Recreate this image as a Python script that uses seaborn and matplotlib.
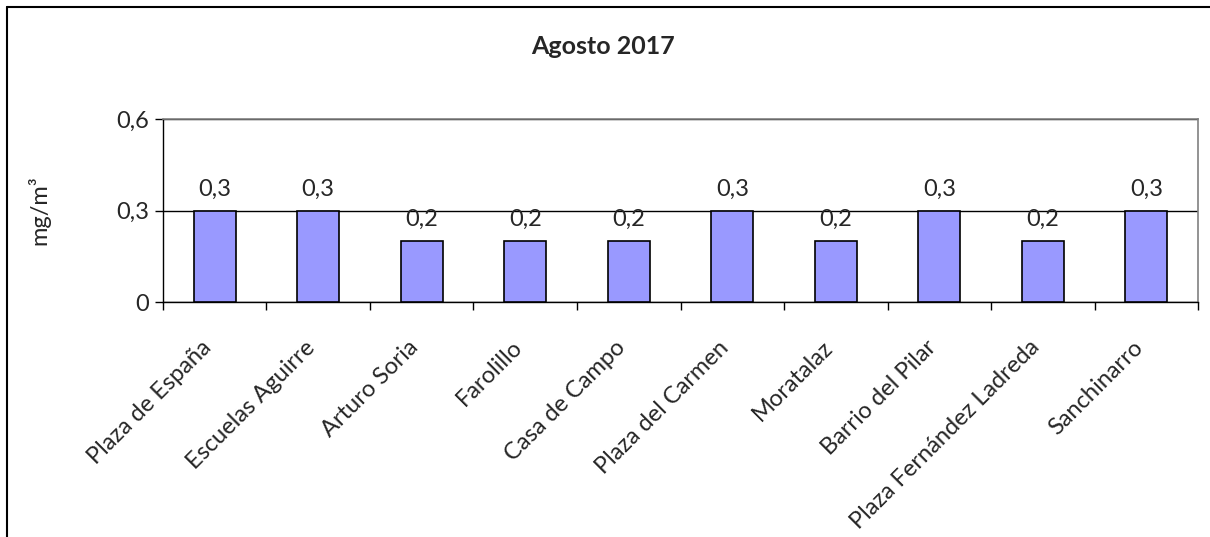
import matplotlib
matplotlib.use("Agg")
import matplotlib.pyplot as plt
import matplotlib.transforms as mtransforms
from matplotlib.lines import Line2D
import seaborn as sns
import pandas as pd

stations = ["Plaza de España", "Escuelas Aguirre", "Arturo Soria", "Farolillo",
            "Casa de Campo", "Plaza del Carmen", "Moratalaz", "Barrio del Pilar",
            "Plaza Fernández Ladreda", "Sanchinarro"]
values = [0.3, 0.3, 0.2, 0.2, 0.2, 0.3, 0.2, 0.3, 0.2, 0.3]
yticks = [0, 0.3, 0.6]
ytick_labels = ["0", "0,3", "0,6"]
title = "Agosto 2017"
ylabel = "mg/m³"

sns.set_theme(style="white")
plt.rcParams["font.family"] = ["Lato", "DejaVu Sans"]

FS = 17

df = pd.DataFrame({"station": stations, "value": values})

fig = plt.figure(figsize=(12.1, 5.37), dpi=100)
ax = fig.add_axes([0.1347, 0.4376, 0.9901 - 0.1347, 0.7784 - 0.4376])

sns.barplot(data=df, x="station", y="value", color="#9999FF", width=0.41,
            edgecolor="black", linewidth=1.2, saturation=1, ax=ax, zorder=3)

ax.set_ylim(0, 0.6)
ax.set_xlim(-0.5, len(stations) - 0.5)
ax.set_yticks(yticks)
ax.set_yticklabels(ytick_labels, fontsize=FS)
ax.yaxis.grid(True, color="black", linewidth=1)
ax.set_axisbelow(True)

ax.set_xticks(range(len(stations)))
ax.set_xticklabels(stations, rotation=45, ha="right", rotation_mode="anchor", fontsize=FS)
ax.tick_params(axis="x", which="major", length=0, pad=25)
offset = mtransforms.ScaledTranslation(-14 / 100, 0, fig.dpi_scale_trans)
for lab in ax.get_xticklabels():
    lab.set_transform(lab.get_transform() + offset)
ax.set_xticks([i - 0.5 for i in range(len(stations) + 1)], minor=True)
ax.tick_params(axis="x", which="minor", length=6, width=1, color="black", direction="out", bottom=True)
ax.tick_params(axis="y", which="major", length=6, width=1, color="black", direction="out", left=True, pad=4)

for s in ["left", "bottom"]:
    ax.spines[s].set_color("black")
    ax.spines[s].set_linewidth(1)
for s in ["top", "right"]:
    ax.spines[s].set_visible(True)
    ax.spines[s].set_color("#808080")
    ax.spines[s].set_linewidth(1.2)

ax.set_xlabel("")
ax.set_ylabel(ylabel, fontsize=FS)
ax.yaxis.set_label_coords((50 - 163) / 1035, 0.5)

for cont in ax.containers:
    ax.bar_label(cont, labels=[f"{v:.1f}".replace(".", ",") for v in cont.datavalues],
                 padding=8, fontsize=FS)

fig.text(0.4985, 1 - 47 / 537, title, ha="center", va="center", fontsize=18, fontweight="bold")

# figure border (top and left only)
fig.add_artist(Line2D([7 / 1210, 7 / 1210], [0, 1 - 7 / 537], transform=fig.transFigure,
                      color="black", linewidth=1.5))
fig.add_artist(Line2D([7 / 1210, 1], [1 - 7 / 537, 1 - 7 / 537], transform=fig.transFigure,
                      color="black", linewidth=1.5))

fig.savefig("out.png", dpi=100, facecolor="white")
